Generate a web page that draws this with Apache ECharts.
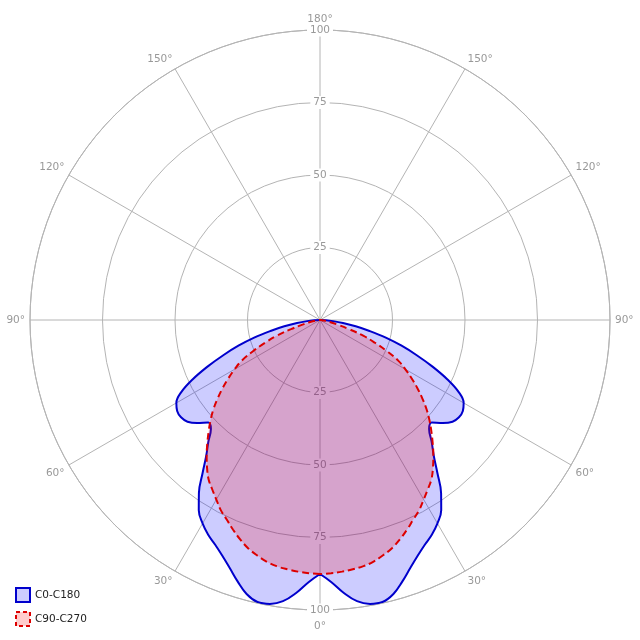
<!DOCTYPE html>
<html>
<head>
<meta charset="utf-8">
<script src="https://cdn.jsdelivr.net/npm/echarts@6/dist/echarts.min.js"></script>
<style>html,body{margin:0;padding:0;background:#fff}#c{width:640px;height:640px}</style>
</head>
<body>
<div id="c"></div>
<script>
// gamma angles (deg) for one half-plane
const gammas = [0,2.5,5,7.5,10,12.5,15,17.5,20,22.5,25,27.5,30,32.5,35,37.5,40,42.5,45,47.5,50,52.5,55,57.5,60,62.5,65,67.5,70,72.5,75,77.5,80,82.5,85,87.5,90];
// C0 half-plane (left), C180 (right)
const c0 = [87.6,90.5,94.5,97.8,99.4,99.6,97.8,94.5,91,88,85.5,83.5,81,77.8,72.8,66.5,61,57,53.2,52.3,55.3,57.6,58.5,58.4,57.2,54,48.5,42,35.5,29.5,23.5,17.5,12.5,8,4.5,2,0];
const c180 = c0;
// C90 half-plane, C270
const c90 = [87.6,87.4,87.1,86.7,86.2,85.3,84,82.5,80.5,78.3,76,74,71.5,69.2,67,64,60.8,57.5,54.3,51.2,48,44.5,41,37.5,34,30.5,25.5,20.5,16,10.5,6.5,4,2.5,1.3,0.6,0.2,0];
const c270 = c90;
const seriesNames = ['C0-C180','C90-C270'];

function buildCurve(left, right){
  const pts = [];
  for (let i = 0; i < gammas.length; i++) pts.push([left[i], gammas[i]]);
  for (let i = gammas.length - 1; i >= 0; i--) pts.push([right[i], 360 - gammas[i]]);
  return pts;
}

const font = '"DejaVu Sans", Verdana, sans-serif';
const grey = '#999';
const lineGrey = '#b4b4b4';

const chart = echarts.init(document.getElementById('c'), null, {renderer:'canvas'});
chart.setOption({
  animation: false,
  backgroundColor: '#fff',
  polar: [
    {center:['50%','50%'], radius: 290},
    {center:['50%','50%'], radius: 290}
  ],
  angleAxis: [
    {
      polarIndex: 0, type:'value', min:0, max:360, interval:30, startAngle:-90, clockwise:true, z:0,
      axisLine:{show:true, lineStyle:{color:lineGrey, width:1}},
      axisTick:{show:false},
      splitLine:{show:true, lineStyle:{color:lineGrey, width:1}},
      axisLabel:{show:true, margin:5, color:grey, fontFamily:font, fontSize:10.5,
        formatter: v => (v >= 360 ? '' : (v === 0 ? '{bot|0°}' : (v > 180 ? 360 - v : v) + '°')),
        rich:{bot:{padding:[6,0,0,0], color:grey, fontFamily:font, fontSize:10.5}}}
    },
    {
      polarIndex: 1, type:'value', min:0, max:360, interval:30, startAngle:90, clockwise:true, z:0,
      axisLine:{show:false}, axisTick:{show:false}, splitLine:{show:false}, axisLabel:{show:false}
    }
  ],
  radiusAxis: [
    {
      polarIndex: 0, type:'value', min:0, max:100, interval:25, z:1,
      axisLine:{show:false}, axisTick:{show:false},
      splitLine:{show:true, lineStyle:{color:lineGrey, width:1}},
      axisLabel:{show:true, margin:0, align:'center', verticalAlign:'middle', color:grey,
        fontFamily:font, fontSize:10.5, backgroundColor:'#fff', padding:[1,3],
        formatter: v => (v === 0 ? '' : String(v))}
    },
    {
      polarIndex: 1, type:'value', min:0, max:100, interval:25, z:1,
      axisLine:{show:false}, axisTick:{show:false}, splitLine:{show:false},
      axisLabel:{show:true, margin:0, align:'center', verticalAlign:'middle', color:grey,
        fontFamily:font, fontSize:10.5, backgroundColor:'#fff', padding:[1,3],
        formatter: v => (v === 0 ? '' : String(v))}
    }
  ],
  legend: {
    orient:'vertical', left:10, bottom:8, itemGap:8, itemWidth:14, itemHeight:14,
    textStyle:{fontFamily:font, fontSize:10.5, color:'#222'},
    data:[
      {name:seriesNames[0], icon:'rect', itemStyle:{color:'rgba(0,0,255,0.2)', borderColor:'#0000cc', borderWidth:2}},
      {name:seriesNames[1], icon:'rect', itemStyle:{color:'rgba(255,0,0,0.2)', borderColor:'#dd0000', borderWidth:2, borderType:[4,3]}}
    ]
  },
  series: [
    {
      name: seriesNames[0], type:'line', coordinateSystem:'polar', polarIndex:0, z:2,
      data: buildCurve(c0, c180), smooth:0.4, showSymbol:false, symbol:'none',
      lineStyle:{color:'#0000cc', width:2},
      itemStyle:{color:'#0000cc'},
      areaStyle:{color:'rgba(0,0,255,0.2)', opacity:1}
    },
    {
      name: seriesNames[1], type:'line', coordinateSystem:'polar', polarIndex:0, z:3,
      data: buildCurve(c90, c270), smooth:0.4, showSymbol:false, symbol:'none',
      lineStyle:{color:'#dd0000', width:2, type:[7,4]},
      itemStyle:{color:'#dd0000'},
      areaStyle:{color:'rgba(255,0,0,0.2)', opacity:1}
    }
  ]
});
</script>
</body>
</html>
